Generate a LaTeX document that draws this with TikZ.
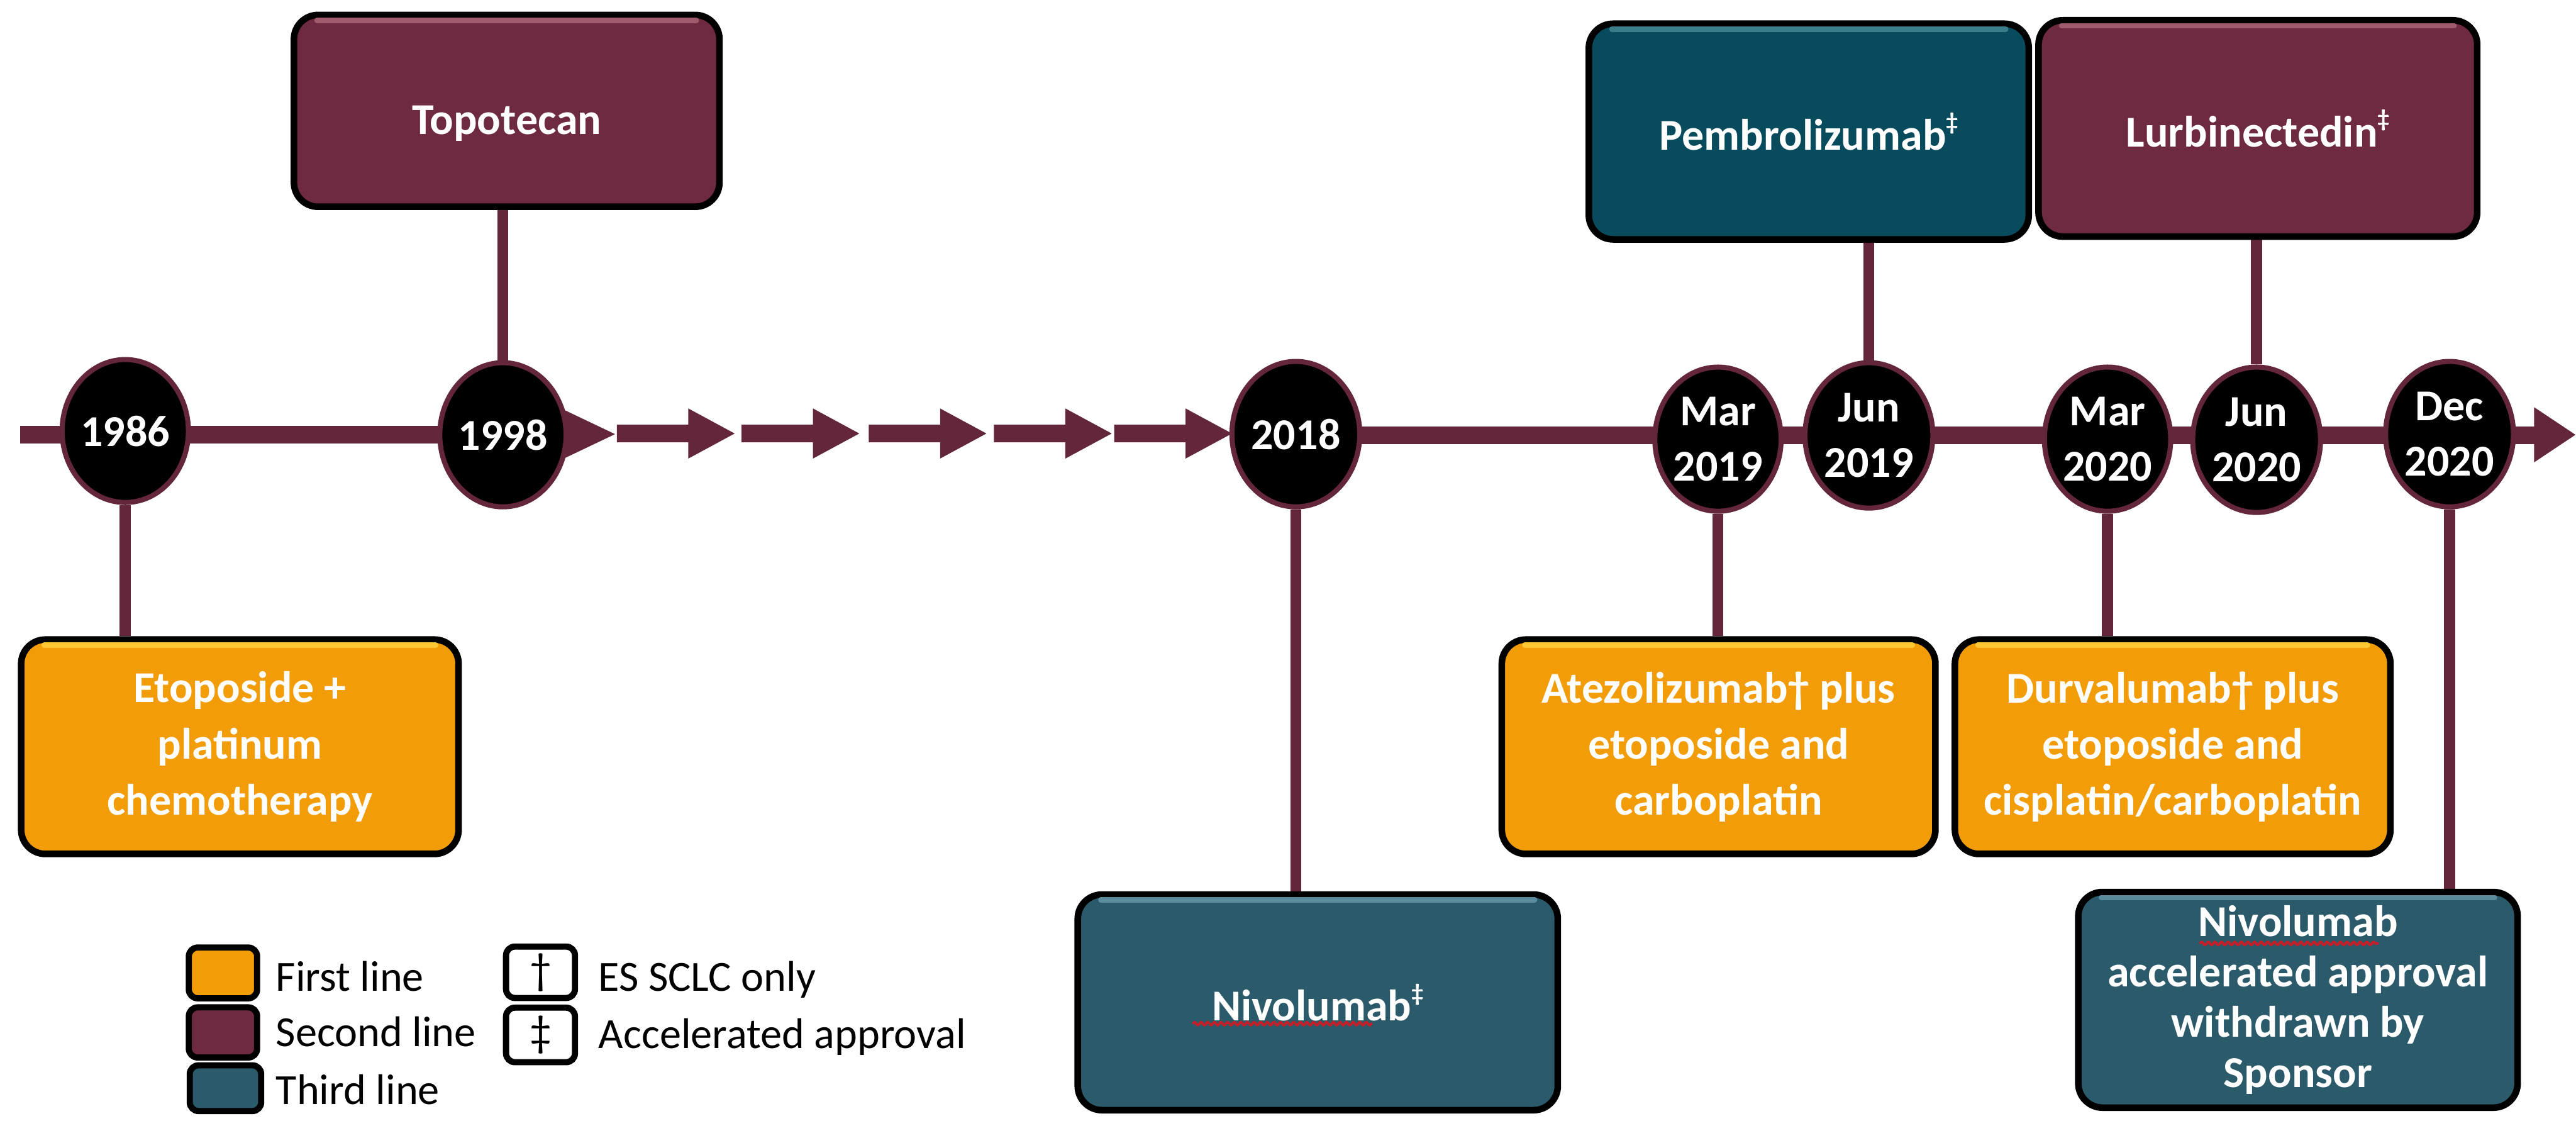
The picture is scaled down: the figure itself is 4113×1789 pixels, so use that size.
\documentclass[tikz,border=0pt]{standalone}
\usepackage{fontspec}
\setmainfont{Carlito}
\usetikzlibrary{shapes.geometric,backgrounds,calc,decorations.pathmorphing}
\definecolor{tlred}{RGB}{99,38,58}
\definecolor{boxorange}{RGB}{242,156,7}
\definecolor{boxmaroon}{RGB}{110,42,64}
\definecolor{boxteal}{RGB}{43,90,106}
\definecolor{boxdteal}{RGB}{7,75,92}
\definecolor{wavyred}{RGB}{200,30,40}
\definecolor{hlorange}{RGB}{255,200,50}
\definecolor{hlmaroon}{RGB}{160,90,110}
\definecolor{hlteal}{RGB}{90,140,155}
\definecolor{hldteal}{RGB}{60,125,140}
\newcommand{\ddg}{\raisebox{0.45em}{\fontsize{11}{11}\selectfont ‡}}
\begin{document}
\begin{tikzpicture}[x=0.01cm,y=-0.01cm,
  yearnode/.style={ellipse, fill=black, draw=tlred, line width=2.3pt, inner sep=0pt,
    text=white, font=\fontsize{20}{25}\selectfont\bfseries, align=center},
  evbox/.style={rectangle, rounded corners=11pt, draw=black, line width=3pt, text=white,
    font=\fontsize{20}{25.5}\selectfont\bfseries, align=center, inner sep=0pt},
  legbox/.style={rectangle, rounded corners=4pt, draw=black, line width=2.8pt, inner sep=0pt,
    font=\fontsize{20}{20}\selectfont},
  legtext/.style={anchor=base west, inner sep=0pt, font=\fontsize{19.5}{22}\selectfont},
  boxtext/.style={text=white, font=\fontsize{20}{25.5}\selectfont\bfseries, align=center, inner sep=0pt},
  conn/.style={draw=tlred, line width=5pt},
  tl/.style={draw=tlred, line width=7.8pt},
  hl/.style={line width=2.4pt, line cap=round},
  wavy/.style={draw=wavyred, line width=1.1pt, decorate, decoration={snake, amplitude=0.7pt, segment length=3pt}}
]
\useasboundingbox (0,0) rectangle (4113,1789);

% year ellipses
\node[yearnode, minimum width=2.00cm, minimum height=2.28cm] (y1986) at (200,688) {1986};
\node[yearnode, minimum width=1.96cm, minimum height=2.30cm] (y1998) at (803,694) {1998};
\node[yearnode, minimum width=2.04cm, minimum height=2.32cm] (y2018) at (2069,693) {2018};
\node[yearnode, minimum width=1.96cm, minimum height=2.30cm] (m2019) at (2743,701) {Mar\\2019};
\node[yearnode, minimum width=2.04cm, minimum height=2.32cm] (j2019) at (2984,695) {Jun\\2019};
\node[yearnode, minimum width=1.96cm, minimum height=2.30cm] (m2020) at (3365,701) {Mar\\2020};
\node[yearnode, minimum width=2.04cm, minimum height=2.32cm] (j2020) at (3603,702) {Jun\\2020};
\node[yearnode, minimum width=2.04cm, minimum height=2.32cm] (d2020) at (3911,693) {Dec\\2020};

% event boxes
\node[evbox, fill=boxmaroon, minimum width=6.79cm, minimum height=3.06cm] (topo) at (809,177) {};
\node[boxtext] (topotxt) at ($(topo.center)+(0,20)$) {Topotecan};
\node[evbox, fill=boxdteal, minimum width=7.02cm, minimum height=3.44cm] (pembro) at (2888,210) {Pembrolizumab\ddg};
\node[evbox, fill=boxmaroon, minimum width=7.00cm, minimum height=3.45cm] (lurbi) at (3605,205) {Lurbinectedin\ddg};
\node[evbox, fill=boxorange, minimum width=6.98cm, minimum height=3.42cm] (etop) at (383,1192) {Etoposide +\\platinum\\chemotherapy};
\node[evbox, fill=boxorange, minimum width=6.92cm, minimum height=3.42cm] (atezo) at (2744,1192) {Atezolizumab† plus\\etoposide and\\carboplatin};
\node[evbox, fill=boxorange, minimum width=6.95cm, minimum height=3.42cm] (durva) at (3469,1192) {Durvalumab† plus\\etoposide and\\cisplatin/carboplatin};
\node[evbox, fill=boxteal, minimum width=7.66cm, minimum height=3.44cm] (nivo) at (2104,1600) {Nivolumab\ddg};
\node[evbox, fill=boxteal, minimum width=7.01cm, minimum height=3.44cm,
  font=\fontsize{20}{22.8}\selectfont\bfseries] (nivw) at (3669,1596) {Nivolumab\\accelerated approval\\withdrawn by\\Sponsor};

% top-edge highlights (bevel)
\foreach \b/\c in {topo/hlmaroon, pembro/hldteal, lurbi/hlmaroon, etop/hlorange, atezo/hlorange, durva/hlorange, nivo/hlteal, nivw/hlteal}
  \draw[hl, draw=\c] ($(\b.north west)+(42,14)$) -- ($(\b.north east)+(-42,14)$);

% wavy spell-check underlines
\draw[wavy] ($(nivo.center)+(-200,34)$) -- ++(287,0);
\draw[wavy] ($(nivw.center)+(-157,-90)$) -- ++(286,0);

% legend
\node[legbox, fill=boxorange, minimum width=1.09cm, minimum height=0.81cm] (l1) at (356,1553) {};
\node[legbox, fill=boxmaroon, minimum width=1.09cm, minimum height=0.80cm] (l2) at (356,1648) {};
\node[legbox, fill=boxteal, minimum width=1.14cm, minimum height=0.73cm] (l3) at (360,1737) {};
\node[legtext] (t1) at (440,1582) {First line};
\node[legtext] (t2) at (440,1670) {Second line};
\node[legtext] (t3) at (440,1763) {Third line};
\node[legbox, fill=white, minimum width=1.10cm, minimum height=0.82cm] (d1) at (863,1552) {†};
\node[legbox, fill=white, minimum width=1.10cm, minimum height=0.87cm] (d2) at (863,1652) {‡};
\node[legtext] (t4) at (955,1582) {ES SCLC only};
\node[legtext] (t5) at (955,1673) {Accelerated approval};

% timeline and connectors behind
\coordinate (tlA) at (32,694);
\coordinate (tlB) at (2100,695);
\coordinate (tlE) at (4050,695);
\begin{scope}[on background layer]
  \draw[tl] (tlA) -- (y1998.center |- tlA);
  \draw[tl] (y2018.center |- tlB) -- (tlE);
  \fill[tlred] (898,653) -- (982,693) -- (898,733) -- cycle;
  \foreach \s in {985,1184,1387,1587,1779}
    \fill[tlred] (\s,678) -- (\s+114,678) -- (\s+114,652) -- (\s+188,692) -- (\s+114,732) -- (\s+114,706) -- (\s,706) -- cycle;
  \fill[tlred] (4046,650) -- (4112,694) -- (4046,738) -- cycle;
  \draw[conn] (y1986.south) -- (y1986.south |- etop.north);
  \draw[conn] (y1998.north) -- (y1998.north |- topo.south);
  \draw[conn] (y2018.south) -- (y2018.south |- nivo.north);
  \draw[conn] (m2019.south) -- (m2019.south |- atezo.north);
  \draw[conn] (j2019.north) -- (j2019.north |- pembro.south);
  \draw[conn] (m2020.south) -- (m2020.south |- durva.north);
  \draw[conn] (j2020.north) -- (j2020.north |- lurbi.south);
  \draw[conn] (d2020.south) -- (d2020.south |- nivw.north);
\end{scope}
\end{tikzpicture}
\end{document}
